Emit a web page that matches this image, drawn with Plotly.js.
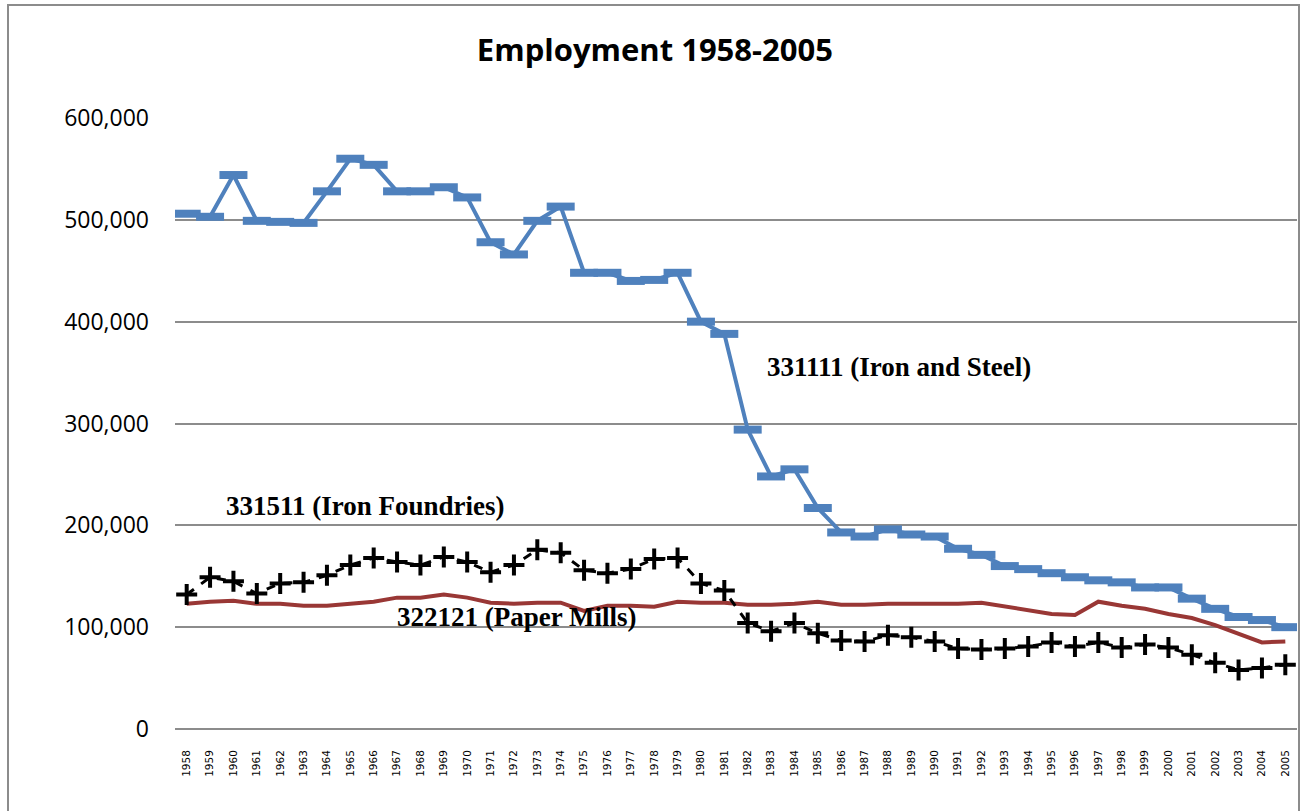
<!DOCTYPE html>
<html>
<head>
<meta charset="utf-8">
<script src="https://cdn.plot.ly/plotly-3.0.1.min.js"></script>
<style>
html,body{margin:0;padding:0;background:#fff;}
#wrap{position:relative;width:1302px;height:811px;}
#chart{width:1302px;height:811px;}
#frame{position:absolute;left:7px;top:4px;width:1293px;height:812px;border:2px solid #8c8c8c;pointer-events:none;box-sizing:border-box;}
</style>
</head>
<body>
<div id="wrap"><div id="chart"></div><div id="frame"></div></div>
<script>
const years = ["1958","1959","1960","1961","1962","1963","1964","1965","1966","1967","1968","1969","1970","1971","1972","1973","1974","1975","1976","1977","1978","1979","1980","1981","1982","1983","1984","1985","1986","1987","1988","1989","1990","1991","1992","1993","1994","1995","1996","1997","1998","1999","2000","2001","2002","2003","2004","2005"];

const ironSteel = [506000,503000,544000,499000,498000,497000,528000,560000,554000,528000,528000,532000,522000,478000,466000,499000,513000,448000,448000,440000,441000,448000,400000,388000,294000,248000,255000,217000,193000,189000,196000,191000,189000,177000,171000,160000,157000,153000,149000,146000,144000,139000,139000,128000,118000,110000,107000,100000];

const ironFoundries = [132000,149000,145000,133000,143000,144000,151000,161000,168000,164000,161000,169000,164000,154000,161000,176000,173000,156000,153000,157000,167000,168000,143000,136000,104000,96000,104000,94000,87000,86000,92000,90000,86000,79000,78000,79000,81000,85000,81000,85000,80000,83000,80000,73000,65000,58000,60000,63000];

const paperMills = [123000,125000,126000,123000,123000,121000,121000,123000,125000,129000,129000,132000,129000,124000,123000,124000,124000,116000,121000,121000,120000,125000,124000,124000,122000,122000,123000,125000,122000,122000,123000,123000,123000,123000,124000,120000,116000,113000,112000,125000,121000,118000,113000,109000,102000,94000,85000,86000];

const labels = ["331111 (Iron and Steel)", "331511 (Iron Foundries)", "322121 (Paper Mills)"];

const traces = [
  {x: years, y: paperMills, type: 'scatter', mode: 'lines', name: labels[2],
   line: {color: '#993735', width: 4}},
  {x: years, y: ironFoundries, type: 'scatter', mode: 'lines+markers', name: labels[1],
   line: {color: '#000000', width: 3, dash: 'dash'},
   marker: {symbol: 'cross-thin', size: 15, color: '#000', line: {color: '#000', width: 4}}},
  {x: years, y: ironSteel, type: 'scatter', mode: 'lines+markers', name: labels[0],
   line: {color: '#4F81BD', width: 4},
   marker: {symbol: 'line-ew', size: 20, color: '#4F81BD', line: {color: '#4F81BD', width: 8}}}
];

const serif = 'Liberation Serif, Times New Roman, serif';

const layout = {
  width: 1302, height: 811,
  margin: {l: 175, r: 5, t: 118, b: 81.5},
  paper_bgcolor: '#fff', plot_bgcolor: '#fff',
  showlegend: false,
  title: {text: '<b>Employment 1958-2005</b>', x: 0.503, xanchor: 'center', y: 0.938, yanchor: 'middle',
          font: {family: 'Open Sans, Liberation Sans, sans-serif', size: 31, color: '#000'}},
  xaxis: {type: 'category', range: [-0.5, 47.5], tickangle: -90, showgrid: false,
          tickfont: {family: 'DejaVu Sans, sans-serif', size: 10.5, color: '#000'},
          ticks: '', ticklabelstandoff: 18, showline: false, zeroline: false, fixedrange: true},
  yaxis: {range: [0, 600000], tickvals: [0,100000,200000,300000,400000,500000,600000],
          tickformat: ',d', showgrid: true, gridcolor: '#8c8c8c', gridwidth: 2,
          zeroline: true, zerolinecolor: '#8c8c8c', zerolinewidth: 2,
          ticks: '', ticklabelstandoff: 25,
          tickfont: {family: 'Open Sans, Liberation Sans, sans-serif', size: 23, color: '#000'}},
  annotations: [
    {text: '<b>' + labels[0] + '</b>', xref: 'paper', yref: 'paper', x: 0.526, y: 0.593, xanchor: 'left', yanchor: 'middle', showarrow: false,
     font: {family: serif, size: 27, color: '#000'}},
    {text: '<b>' + labels[1] + '</b>', xref: 'paper', yref: 'paper', x: 0.044, y: 0.365, xanchor: 'left', yanchor: 'middle', showarrow: false,
     font: {family: serif, size: 27, color: '#000'}},
    {text: '<b>' + labels[2] + '</b>', xref: 'paper', yref: 'paper', x: 0.196, y: 0.184, xanchor: 'left', yanchor: 'middle', showarrow: false,
     font: {family: serif, size: 27, color: '#000'}}
  ]
};

Plotly.newPlot('chart', traces, layout, {displayModeBar: false, staticPlot: true});
</script>
</body>
</html>
